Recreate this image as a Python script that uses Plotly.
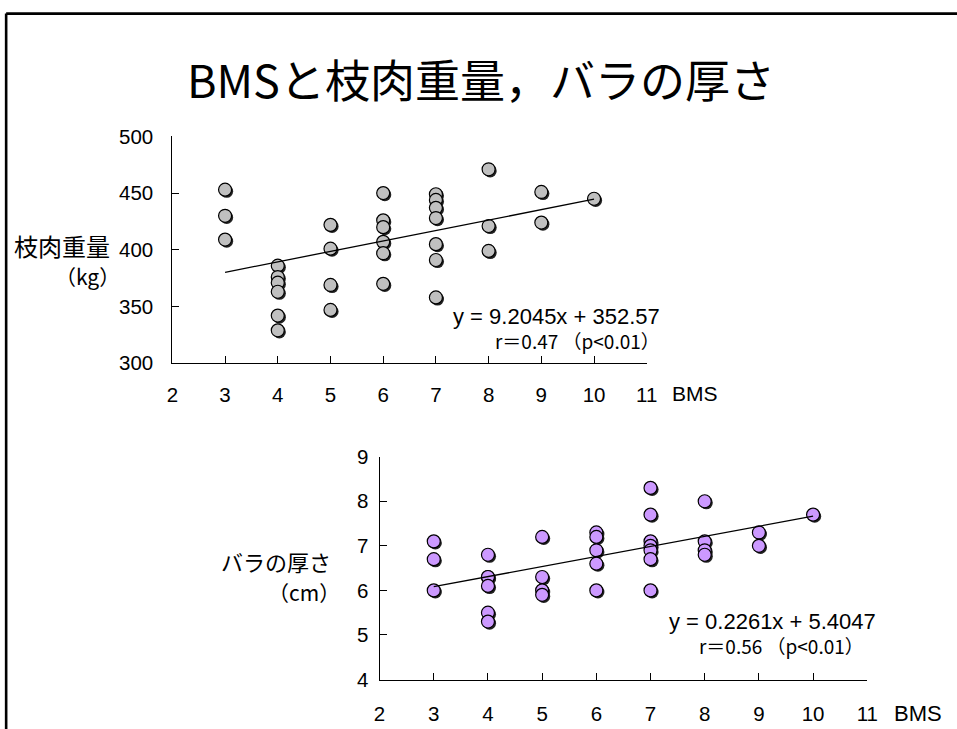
import plotly.graph_objects as go

# BMS grade vs carcass weight (kg)
bms_weight = [3, 3, 3,
              4, 4, 4, 4, 4, 4,
              5, 5, 5, 5,
              6, 6, 6, 6, 6, 6,
              7, 7, 7, 7, 7, 7, 7,
              8, 8, 8,
              9, 9,
              10]
carcass_weight = [453, 430, 409,
                  386, 376, 371, 363, 342, 329,
                  422, 401, 369, 347,
                  450, 426, 420, 407, 397, 370,
                  449, 444, 437, 428, 405, 391, 358,
                  471, 421, 399,
                  451, 424,
                  445]

# BMS grade vs rib thickness (cm)
bms_rib = [3, 3, 3,
           4, 4, 4, 4, 4, 4,
           5, 5, 5, 5,
           6, 6, 6, 6, 6,
           7, 7, 7, 7, 7, 7, 7,
           8, 8, 8, 8,
           9, 9,
           10]
rib_thickness = [7.1, 6.7, 6.0,
                 6.8, 6.3, 6.3, 6.1, 5.5, 5.3,
                 7.2, 6.3, 6.0, 5.9,
                 7.3, 7.2, 6.9, 6.6, 6.0,
                 8.3, 7.7, 7.1, 7.0, 6.9, 6.7, 6.0,
                 8.0, 7.1, 6.9, 6.8,
                 7.3, 7.0,
                 7.7]

# Regression lines (slope, intercept) as printed on the chart
fit_weight = (9.2045, 352.57)
fit_rib = (0.2261, 5.4047)
fit_x = [3, 10]

x_ticks = [2, 3, 4, 5, 6, 7, 8, 9, 10, 11]
weight_ticks = [300, 350, 400, 450, 500]
rib_ticks = [4, 5, 6, 7, 8, 9]

# layout helpers: positions are given in slide pixels and converted to paper fractions
W, H = 968, 740
SX, SY = 0.98, 0.968
OX, OY = 7.5, 11.8


def px(v):
    return (v / SX - OX) / W


def py(v):
    return 1 - (v / SY - OY) / H


# plot areas in slide pixels: (left, right, top, bottom)
top_box = (173.3, 646.5, 135.7, 362.3)
bot_box = (380.0, 866.5, 455.7, 678.3)

x_range = [2, 11]
w_range = [300, 500]
r_range = [4, 9]

NUM_FONT = "Liberation Sans, Arial, sans-serif"
JP_FONT = "Noto Sans CJK JP, sans-serif"


def shadow(xs, ys, box, yr, dpx=1.6):
    dx = (x_range[1] - x_range[0]) / (box[1] - box[0]) * dpx
    dy = (yr[1] - yr[0]) / (box[3] - box[2]) * dpx
    return [v + dx for v in xs], [v - dy for v in ys]


fig = go.Figure()

sx, sy = shadow(bms_weight, carcass_weight, top_box, w_range)
fig.add_trace(go.Scatter(x=sx, y=sy, mode="markers", xaxis="x", yaxis="y",
                         marker=dict(size=13, color="#222222", line=dict(width=0)),
                         showlegend=False, hoverinfo="skip"))
fig.add_trace(go.Scatter(x=bms_weight, y=carcass_weight, mode="markers", xaxis="x", yaxis="y",
                         marker=dict(size=13, color="#c0c0c0", line=dict(color="black", width=1.2)),
                         showlegend=False))
fig.add_trace(go.Scatter(x=fit_x, y=[fit_weight[0] * v + fit_weight[1] for v in fit_x],
                         mode="lines", xaxis="x", yaxis="y",
                         line=dict(color="black", width=1.3), showlegend=False))

sx, sy = shadow(bms_rib, rib_thickness, bot_box, r_range)
fig.add_trace(go.Scatter(x=sx, y=sy, mode="markers", xaxis="x2", yaxis="y2",
                         marker=dict(size=13, color="#222222", line=dict(width=0)),
                         showlegend=False, hoverinfo="skip"))
fig.add_trace(go.Scatter(x=bms_rib, y=rib_thickness, mode="markers", xaxis="x2", yaxis="y2",
                         marker=dict(size=13, color="#cc99ff", line=dict(color="black", width=1.2)),
                         showlegend=False))
fig.add_trace(go.Scatter(x=fit_x, y=[fit_rib[0] * v + fit_rib[1] for v in fit_x],
                         mode="lines", xaxis="x2", yaxis="y2",
                         line=dict(color="black", width=1.3), showlegend=False))

axis_common = dict(showgrid=False, zeroline=False, showline=True, linecolor="black",
                   linewidth=1, ticks="inside", ticklen=7, tickcolor="black", tickwidth=1,
                   tickfont=dict(family=NUM_FONT, size=20.5, color="black"), fixedrange=True)

fig.update_layout(
    width=W, height=H,
    margin=dict(l=0, r=0, t=0, b=0),
    paper_bgcolor="white", plot_bgcolor="white",
    xaxis=dict(domain=[px(top_box[0]), px(top_box[1])], range=x_range,
               tickvals=x_ticks, anchor="y", ticklabelstandoff=13, **axis_common),
    yaxis=dict(domain=[py(top_box[3]), py(top_box[2])], range=w_range,
               tickvals=weight_ticks, anchor="x", ticklabelstandoff=14, **axis_common),
    xaxis2=dict(domain=[px(bot_box[0]), px(bot_box[1])], range=x_range,
                tickvals=x_ticks, anchor="y2", ticklabelstandoff=16, **axis_common),
    yaxis2=dict(domain=[py(bot_box[3]), py(bot_box[2])], range=r_range,
                tickvals=rib_ticks, anchor="x2", ticklabelstandoff=6, **axis_common),
)

annotations = [
    dict(text="BMSと枝肉重量，バラの厚さ", x=px(481), y=py(78),
         font=dict(family=JP_FONT, size=45, color="black"), xanchor="center"),
    dict(text="枝肉重量", x=px(113), y=py(245), font=dict(family=JP_FONT, size=24), xanchor="right"),
    dict(text="（kg）", x=px(123), y=py(275), font=dict(family=JP_FONT, size=21), xanchor="right"),
    dict(text="BMS", x=px(670), y=py(393), font=dict(family=NUM_FONT, size=21), xanchor="left"),
    dict(text="y = 9.2045x + 352.57", x=px(662), y=py(316), font=dict(family=NUM_FONT, size=22),
         xanchor="right"),
    dict(text="r＝0.47 （p<0.01）", x=px(662), y=py(340), font=dict(family=JP_FONT, size=19),
         xanchor="right"),
    dict(text="バラの厚さ", x=px(334), y=py(560), font=dict(family=JP_FONT, size=22), xanchor="right"),
    dict(text="（cm）", x=px(343), y=py(591), font=dict(family=JP_FONT, size=21), xanchor="right"),
    dict(text="BMS", x=px(891), y=py(712), font=dict(family=NUM_FONT, size=22), xanchor="left"),
    dict(text="y = 0.2261x + 5.4047", x=px(877), y=py(620), font=dict(family=NUM_FONT, size=22),
         xanchor="right"),
    dict(text="r＝0.56 （p<0.01）", x=px(865), y=py(644), font=dict(family=JP_FONT, size=19),
         xanchor="right"),
]
for a in annotations:
    a.setdefault("xref", "paper")
    a.setdefault("yref", "paper")
    a.setdefault("yanchor", "middle")
    a["showarrow"] = False
    a["font"].setdefault("color", "black")
fig.update_layout(annotations=annotations)

# slide frame (top and left edges)
fig.add_shape(type="line", xref="paper", yref="paper", x0=px(7.5), y0=py(13), x1=1, y1=py(13),
              line=dict(color="black", width=2.6))
fig.add_shape(type="line", xref="paper", yref="paper", x0=px(7.5), y0=py(13), x1=px(7.5), y1=0,
              line=dict(color="black", width=2.6))

fig.write_html("out.html")
